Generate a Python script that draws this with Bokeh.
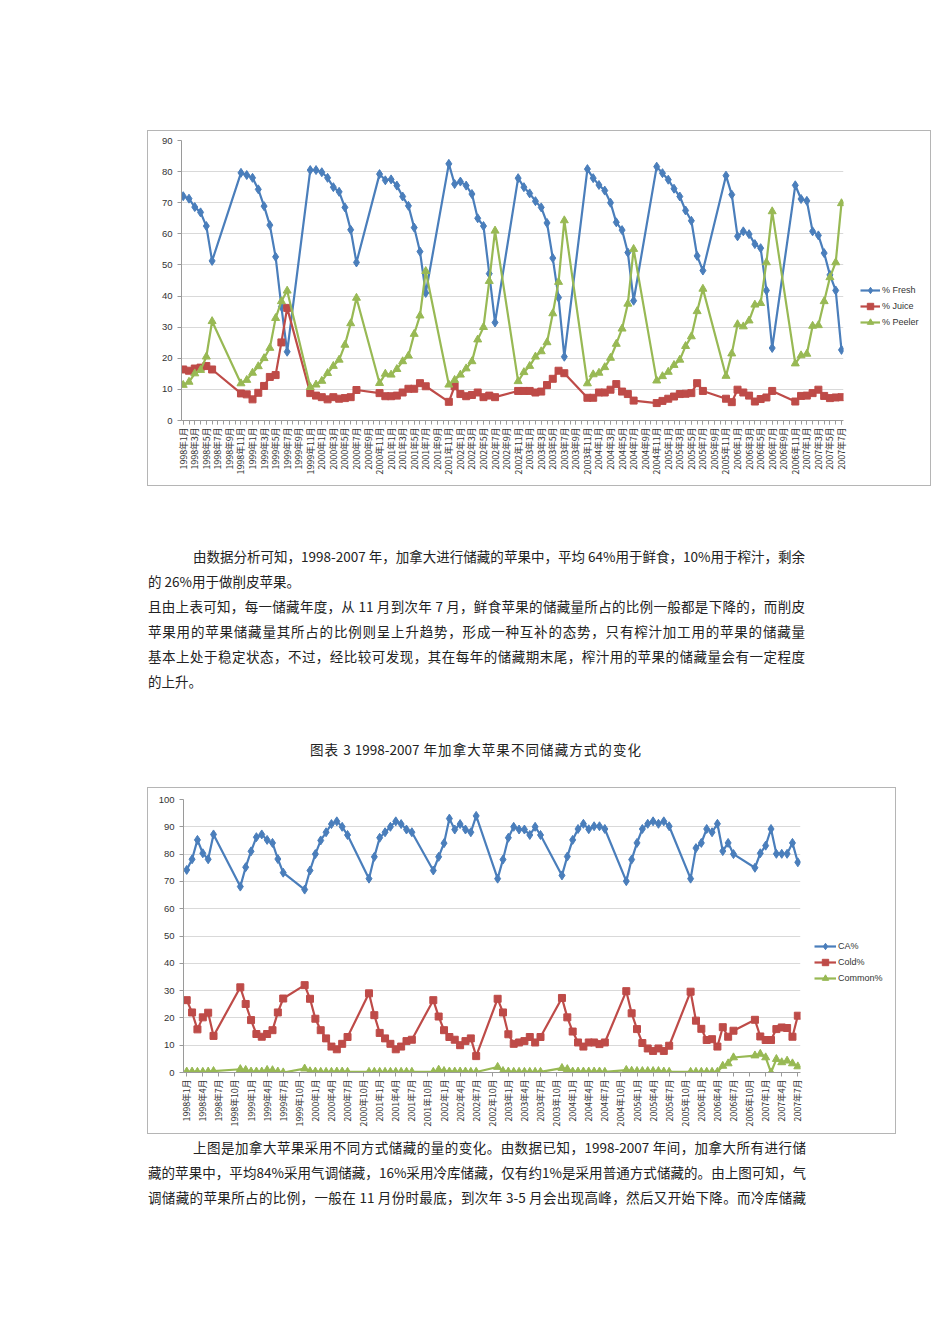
from bokeh.plotting import figure
from bokeh.models import Range1d, FixedTicker, Legend, LegendItem, Div, Spacer, ColumnDataSource
from bokeh.layouts import column, row
from bokeh.embed import file_html
from bokeh.resources import INLINE
from math import pi

# ---------------- data ----------------
months = [
    "1998-01", "1998-02", "1998-03", "1998-04", "1998-05", "1998-06",
    "1998-11", "1998-12", "1999-01", "1999-02", "1999-03", "1999-04", "1999-05", "1999-06", "1999-07",
    "1999-11", "1999-12", "2000-01", "2000-02", "2000-03", "2000-04", "2000-05", "2000-06", "2000-07",
    "2000-11", "2000-12", "2001-01", "2001-02", "2001-03", "2001-04", "2001-05", "2001-06", "2001-07",
    "2001-11", "2001-12", "2002-01", "2002-02", "2002-03", "2002-04", "2002-05", "2002-06", "2002-07",
    "2002-11", "2002-12", "2003-01", "2003-02", "2003-03", "2003-04", "2003-05", "2003-06", "2003-07",
    "2003-11", "2003-12", "2004-01", "2004-02", "2004-03", "2004-04", "2004-05", "2004-06", "2004-07",
    "2004-11", "2004-12", "2005-01", "2005-02", "2005-03", "2005-04", "2005-05", "2005-06", "2005-07",
    "2005-11", "2005-12", "2006-01", "2006-02", "2006-03", "2006-04", "2006-05", "2006-06", "2006-07",
    "2006-11", "2006-12", "2007-01", "2007-02", "2007-03", "2007-04", "2007-05", "2007-06", "2007-07",
]

fresh = [72.1, 71.3, 68.6, 66.9, 62.5, 51.3,
         79.6, 78.9, 78.0, 74.3, 68.9, 62.8, 52.6, 36.6, 22.1,
         80.5, 80.5, 79.8, 78.0, 75.0, 73.5, 68.5, 61.3, 50.8,
         79.2, 77.2, 77.5, 75.5, 72.0, 69.0, 62.0, 54.3, 41.0,
         82.5, 76.0, 76.8, 75.5, 72.8, 65.0, 62.5, 47.2, 31.5,
         77.9, 75.0, 73.0, 70.5, 68.5, 63.5, 52.2, 39.5, 20.5,
         80.8, 77.9, 75.7, 73.9, 70.0, 63.7, 61.2, 54.0, 38.5,
         81.6, 79.5, 77.4, 74.5, 72.0, 67.5, 64.2, 52.9, 48.2,
         78.7, 72.6, 59.2, 60.8, 59.9, 56.7, 55.4, 41.8, 23.3,
         75.6, 71.2, 70.6, 60.8, 59.5, 53.8, 46.8, 41.8, 22.7]

juice = [16.4, 16.0, 16.7, 17.0, 17.5, 16.4,
         8.7, 8.4, 6.8, 8.9, 11.1, 14.0, 14.6, 25.1, 36.2,
         8.8, 8.0, 7.5, 6.8, 7.5, 7.0, 7.2, 7.5, 9.8,
         8.8, 7.8, 7.8, 8.0, 9.0, 10.2, 10.2, 12.0, 11.0,
         6.0, 11.0, 8.5, 7.8, 8.2, 9.0, 7.5, 8.0, 7.5,
         9.5, 9.5, 9.5, 9.0, 9.3, 11.4, 13.4, 16.0, 15.2,
         7.3, 7.3, 9.0, 9.0, 9.9, 11.7, 9.3, 8.5, 6.4,
         5.6, 6.3, 7.0, 7.7, 8.5, 8.6, 8.8, 12.0, 9.5,
         7.0, 5.9, 9.9, 9.0, 8.0, 6.1, 6.9, 7.4, 9.5,
         6.1, 7.9, 8.0, 8.8, 9.9, 7.9, 7.2, 7.4, 7.5]

peeler = [11.4, 12.4, 15.1, 16.2, 20.5, 31.9,
          11.9, 13.0, 15.3, 17.4, 20.0, 23.3, 32.9, 38.3, 41.7,
          10.7, 11.5, 12.7, 15.2, 17.5, 19.5, 24.3, 31.2, 39.4,
          12.0, 15.0, 14.7, 16.5, 19.0, 20.8, 27.8, 33.7, 48.0,
          11.5, 13.0, 14.7, 16.7, 19.0, 26.0, 30.0, 44.8, 61.0,
          12.6, 15.5, 17.5, 20.5, 22.2, 25.1, 34.4, 44.5, 64.3,
          11.9, 14.8, 15.3, 17.1, 20.1, 24.6, 29.5, 37.5, 55.1,
          12.8, 14.2, 15.6, 17.8, 19.5, 23.9, 27.0, 35.1, 42.3,
          14.3, 21.5, 30.9, 30.2, 32.1, 37.2, 37.7, 50.8, 67.2,
          18.3, 20.9, 21.4, 30.4, 30.6, 38.3, 46.0, 50.8, 69.8]

ca = [74.2, 78.1, 85.2, 80.3, 78.1, 87.2,
      68.1, 75.2, 81.0, 86.2, 87.2, 85.2, 84.1, 78.2, 73.2,
      67.0, 74.0, 80.0, 85.0, 88.0, 91.0, 92.0, 90.0, 87.0,
      71.0, 79.0, 86.0, 88.0, 90.0, 92.0, 91.0, 89.0, 88.0,
      74.0, 79.0, 84.0, 93.0, 89.0, 91.0, 89.0, 88.0, 94.0,
      71.0, 78.0, 86.0, 90.0, 89.0, 89.0, 87.0, 90.0, 87.0,
      72.2, 79.1, 85.2, 89.2, 91.1, 89.1, 90.2, 90.2, 89.2,
      70.1, 78.0, 84.1, 89.2, 91.1, 92.0, 91.1, 92.0, 90.2,
      71.0, 82.2, 84.1, 89.2, 88.0, 91.1, 81.1, 84.1, 80.0,
      75.0, 80.3, 83.1, 89.2, 80.1, 80.1, 80.1, 84.1, 77.0]

cold = [26.5, 22.0, 15.8, 20.2, 21.9, 13.4,
        31.2, 25.1, 19.2, 14.1, 13.1, 14.1, 15.5, 22.0, 27.1,
        32.0, 27.0, 19.7, 15.5, 12.5, 9.5, 8.5, 10.5, 13.0,
        29.0, 21.0, 14.5, 12.5, 10.5, 8.5, 9.5, 11.5, 12.0,
        26.5, 20.5, 15.5, 13.0, 12.0, 10.0, 11.5, 12.5, 6.0,
        27.0, 22.0, 14.0, 10.5, 11.0, 11.5, 13.0, 11.0, 13.0,
        27.3, 20.2, 15.0, 11.0, 9.5, 11.0, 11.0, 10.4, 11.0,
        29.8, 21.7, 15.9, 10.8, 8.8, 7.9, 8.8, 7.9, 9.8,
        29.6, 19.0, 16.0, 11.9, 12.2, 9.5, 16.6, 13.1, 15.3,
        19.3, 13.2, 11.9, 11.9, 15.9, 16.5, 16.3, 13.1, 20.8]

common = [0.3, 0.3, 0.2, 0.2, 0.3, 0.5,
          1.2, 0.9, 0.3, 0.3, 0.3, 0.9, 0.8, 0.3, 0.0,
          1.4, 0.4, 0.3, 0.2, 0.2, 0.2, 0.3, 0.3, 0.2,
          0.2, 0.2, 0.2, 0.2, 0.2, 0.2, 0.2, 0.2, 0.2,
          0.2, 1.0, 0.5, 0.3, 0.3, 0.3, 0.3, 0.2, 0.2,
          2.0, 0.5, 0.3, 0.2, 0.2, 0.2, 0.2, 0.2, 0.2,
          1.6, 1.2, 0.3, 0.3, 0.3, 0.3, 0.3, 0.3, 0.2,
          0.9, 0.6, 0.5, 0.5, 0.5, 0.5, 0.5, 0.3, 0.2,
          0.2, 0.2, 0.2, 0.2, 0.2, 0.2, 2.4, 3.3, 5.5,
          6.2, 6.8, 5.5, 0.0, 4.9, 3.7, 4.3, 3.3, 2.2]

y_ticks_1 = [0, 10, 20, 30, 40, 50, 60, 70, 80, 90]
y_ticks_2 = [0, 10, 20, 30, 40, 50, 60, 70, 80, 90, 100]
x_label_step_1 = 2   # every 2 months
x_label_step_2 = 3   # every 3 months

para1 = [
    "由数据分析可知，1998-2007 年，加拿大进行储藏的苹果中，平均 64%用于鲜食，10%用于榨汁，剩余",
    "的 26%用于做削皮苹果。",
    "且由上表可知，每一储藏年度，从 11 月到次年 7 月，鲜食苹果的储藏量所占的比例一般都是下降的，而削皮",
    "苹果用的苹果储藏量其所占的比例则呈上升趋势，形成一种互补的态势，只有榨汁加工用的苹果的储藏量",
    "基本上处于稳定状态，不过，经比较可发现，其在每年的储藏期末尾，榨汁用的苹果的储藏量会有一定程度",
    "的上升。",
]
caption = "图表 3 1998-2007 年加拿大苹果不同储藏方式的变化"
para2 = [
    "上图是加拿大苹果采用不同方式储藏的量的变化。由数据已知，1998-2007 年间，加拿大所有进行储",
    "藏的苹果中，平均84%采用气调储藏，16%采用冷库储藏，仅有约1%是采用普通方式储藏的。由上图可知，气",
    "调储藏的苹果所占的比例，一般在 11 月份时最底，到次年 3-5 月会出现高峰，然后又开始下降。而冷库储藏",
]

BLUE = "#4a7ebb"
RED = "#be4b48"
GREEN = "#98b954"
CJK = "Noto Sans CJK SC"


def month_index(s):
    y, m = s.split("-")
    return (int(y) - 1998) * 12 + int(m) - 1


x_idx = [month_index(s) for s in months]


def tick_labels(step):
    ticks = list(range(0, 115, step))
    return ticks, {t: f"{1998 + t // 12}年{t % 12 + 1}月" for t in ticks}


def make_chart(w, h, borders, xr, yr, yticks, step, minor, series, xfont):
    bl, br, bt, bb = borders
    p = figure(width=w, height=h, output_backend="svg", toolbar_location=None,
               x_range=Range1d(*xr), y_range=Range1d(*yr),
               min_border_left=bl, min_border_right=br, min_border_top=bt, min_border_bottom=bb)
    p.background_fill_color = "white"
    p.border_fill_color = "white"
    p.outline_line_color = None
    p.xgrid.visible = False
    p.ygrid.grid_line_color = "#d9d9d9"
    p.ygrid.grid_line_width = 1

    ticks, labels = tick_labels(step)
    minor_ticks = list(range(0, 115)) if minor else []
    p.xaxis.ticker = FixedTicker(ticks=ticks, minor_ticks=minor_ticks)
    p.xaxis.major_label_overrides = labels
    p.xaxis.major_label_orientation = pi / 2
    p.xaxis.major_label_text_font = CJK
    p.xaxis.major_label_text_font_size = xfont
    p.xaxis.major_label_text_color = "#333333"
    p.xaxis.major_label_standoff = 3
    p.xaxis.axis_line_color = "#9a9a9a"
    p.xaxis.major_tick_line_color = "#9a9a9a"
    p.xaxis.minor_tick_line_color = "#9a9a9a"
    p.xaxis.major_tick_out = 4
    p.xaxis.major_tick_in = 0
    p.xaxis.minor_tick_out = 4 if minor else 0
    p.xaxis.minor_tick_in = 0

    p.yaxis.ticker = FixedTicker(ticks=yticks)
    p.yaxis.major_label_text_font = "Liberation Sans"
    p.yaxis.major_label_text_font_size = "9.5px"
    p.yaxis.major_label_text_color = "#333333"
    p.yaxis.axis_line_color = "#9a9a9a"
    p.yaxis.major_tick_line_color = "#9a9a9a"
    p.yaxis.major_tick_out = 4
    p.yaxis.major_tick_in = 0
    p.yaxis.minor_tick_line_color = None
    p.yaxis.major_label_standoff = 5

    for name, vals, color, marker, msize in series:
        src = ColumnDataSource(dict(x=x_idx, y=vals))
        p.line("x", "y", source=src, line_color=color, line_width=2.2)
        p.scatter("x", "y", source=src, marker=marker, size=msize,
                  fill_color=color, line_color=color)
    return p


def make_legend_fig(w, h, series, loc, glyph_w):
    lf = figure(width=w, height=h, output_backend="svg", toolbar_location=None,
                x_axis_type=None, y_axis_type=None,
                x_range=Range1d(-1000, -999), y_range=Range1d(0, 1),
                min_border_left=0, min_border_right=0, min_border_top=0, min_border_bottom=0)
    lf.outline_line_color = None
    lf.background_fill_color = "white"
    lf.border_fill_color = "white"
    lf.grid.visible = False
    items = []
    for name, vals, color, marker, msize in series:
        src = ColumnDataSource(dict(x=x_idx, y=vals))
        lr = lf.line("x", "y", source=src, line_color=color, line_width=2.2)
        sr = lf.scatter("x", "y", source=src, marker=marker, size=msize,
                        fill_color=color, line_color=color)
        items.append(LegendItem(label=name, renderers=[lr, sr]))
    leg = Legend(items=items, location=loc, glyph_width=glyph_w, glyph_height=16,
                 label_height=16, spacing=0, padding=0, margin=0, label_standoff=2,
                 border_line_color=None, background_fill_alpha=0,
                 label_text_font="Liberation Sans", label_text_font_size="9px",
                 label_text_color="#333333")
    lf.add_layout(leg)
    return lf


series1 = [("% Fresh", fresh, BLUE, "diamond", 9),
           ("% Juice", juice, RED, "square", 7),
           ("% Peeler", peeler, GREEN, "triangle", 8)]
series2 = [("CA%", ca, BLUE, "diamond", 9),
           ("Cold%", cold, RED, "square", 7),
           ("Common%", common, GREEN, "triangle", 8)]

fig1 = make_chart(700, 354, (33, 5, 9, 65), (-0.3, 114.35), (0, 90), y_ticks_1,
                  x_label_step_1, True, series1, "8.8px")
leg1 = make_legend_fig(82, 354, series1, (12, 90), 20)

fig2 = make_chart(657, 345, (35, 5, 11, 61), (-0.6, 114.5), (0, 100), y_ticks_2,
                  x_label_step_2, False, series2, "8.8px")
leg2 = make_legend_fig(90, 345, series2, (9, 86), 22)

box1 = row(fig1, leg1, spacing=0, styles={"outline": "1px solid #b5b5b5"})
box2 = row(fig2, leg2, spacing=0, styles={"outline": "1px solid #b5b5b5"})

TXT = f"font-family:'{CJK}';font-size:13.5px;color:#222222;"


def line_div(text, width, indent=0, justify=True):
    align = "text-align:justify;text-align-last:justify;" if justify else "text-align:left;"
    return (f"<div style=\"{TXT}width:{width}px;margin-left:{indent}px;height:25px;"
            f"line-height:25px;{align}\">{text}</div>")


p1_html = (line_div(para1[0], 612, 45) + line_div(para1[1], 657, 0, False)
           + line_div(para1[2], 657) + line_div(para1[3], 657) + line_div(para1[4], 657)
           + line_div(para1[5], 657, 0, False))
p2_html = line_div(para2[0], 613, 45) + line_div(para2[1], 658) + line_div(para2[2], 658)
cap_html = line_div(caption, 331)

div_p1 = Div(text=p1_html, width=720, height=150, margin=0)
div_cap = Div(text=cap_html, width=340, height=25, margin=0)
div_p2 = Div(text=p2_html, width=720, height=75, margin=0)

layout = column(
    Spacer(width=950, height=131, margin=0),
    row(Spacer(width=148, height=354, margin=0), box1, spacing=0),
    Spacer(width=950, height=59, margin=0),
    row(Spacer(width=148, height=150, margin=0), div_p1, spacing=0),
    Spacer(width=950, height=43, margin=0),
    row(Spacer(width=310, height=25, margin=0), div_cap, spacing=0),
    Spacer(width=950, height=26, margin=0),
    row(Spacer(width=148, height=345, margin=0), box2, spacing=0),
    Spacer(width=950, height=2, margin=0),
    row(Spacer(width=148, height=75, margin=0), div_p2, spacing=0),
    spacing=0,
)

open("out.html", "w").write(file_html(layout, INLINE))
